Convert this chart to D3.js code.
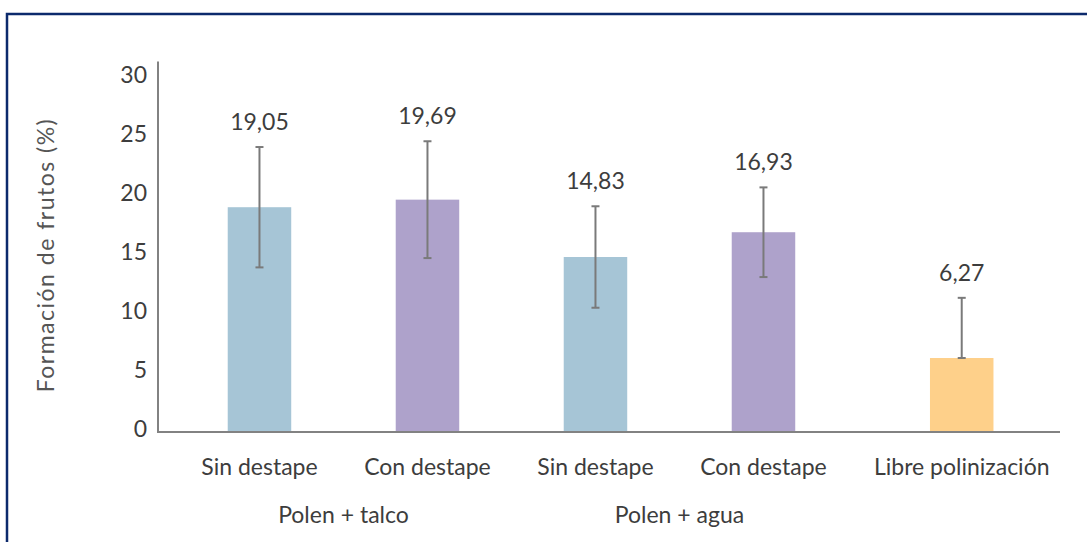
<!DOCTYPE html>
<html lang="es">
<head>
<meta charset="utf-8">
<script src="https://cdn.jsdelivr.net/npm/d3@7"></script>
<style>
  html, body { margin: 0; padding: 0; background: #ffffff; }
  svg { display: block; font-family: Lato, "Open Sans", sans-serif; }
</style>
</head>
<body>
<svg id="chart" width="1087" height="542"></svg>
<script>
// Treatment categories, their pollination group and fruit-set values (%)
const categories = ["Sin destape", "Con destape", "Sin destape", "Con destape", "Libre polinización"];
const groups = ["Polen + talco", "Polen + talco", "Polen + agua", "Polen + agua", null];
const values = [19.05, 19.69, 14.83, 16.93, 6.27];
const errors = [5.1, 4.95, 4.3, 3.8, 5.1];
const showLowerError = [true, true, true, true, false];
const barColors = ["#a6c5d6", "#aea2cb", "#a6c5d6", "#aea2cb", "#fed08a"];
const yTicks = [0, 5, 10, 15, 20, 25, 30];

const fmt = v => d3.format(".2f")(v).replace(".", ",");

const svg = d3.select("#chart");
const W = 1087, H = 542;

// Frame
svg.append("path")
  .attr("d", `M7,${H} L7,14 L${W},14`)
  .attr("fill", "none")
  .attr("stroke", "#0c2a6c")
  .attr("stroke-width", 2.5);

// Ungrouped bars sit a little further apart from the paired ones
const groupGap = 0.18;
const slots = categories.map((c, i) => i + (groups[i] === null ? groupGap : 0));

const plotLeft = 158, plotRight = 1060, plotBottom = 432, plotTop = 78;
const x = d3.scaleLinear().domain([-0.604, 4.765]).range([plotLeft, plotRight]);
const y = d3.scaleLinear().domain([0, 30]).range([plotBottom, plotTop]);
const barW = x(0.378) - x(0);
const yAxisTop = 31.4;

const axisColor = "#828282";
const textColor = "#3d3d3d";

// Bars
svg.append("g").selectAll("rect")
  .data(values)
  .join("rect")
  .attr("x", (d, i) => x(slots[i]) - barW / 2)
  .attr("y", d => y(d))
  .attr("width", barW)
  .attr("height", d => y(0) - y(d))
  .attr("fill", (d, i) => barColors[i]);

// Error bars
const eb = svg.append("g").attr("stroke", "#7a7a7a").attr("stroke-width", 2).attr("fill", "none");
values.forEach((v, i) => {
  const cx = x(slots[i]);
  const lo = showLowerError[i] ? v - errors[i] : v;
  const hi = v + errors[i];
  eb.append("line").attr("x1", cx).attr("x2", cx).attr("y1", y(lo)).attr("y2", y(hi));
  eb.append("line").attr("x1", cx - 4).attr("x2", cx + 4).attr("y1", y(hi)).attr("y2", y(hi));
  eb.append("line").attr("x1", cx - 4).attr("x2", cx + 4).attr("y1", y(lo)).attr("y2", y(lo));
});

// Value labels above the error bars
svg.append("g").selectAll("text")
  .data(values)
  .join("text")
  .attr("x", (d, i) => x(slots[i]))
  .attr("y", (d, i) => y(d + errors[i]) - 17)
  .attr("text-anchor", "middle")
  .attr("font-size", 23)
  .attr("fill", textColor)
  .text(d => fmt(d));

// Axes
svg.append("line")
  .attr("x1", plotLeft).attr("x2", plotLeft)
  .attr("y1", y(0)).attr("y2", y(yAxisTop))
  .attr("stroke", axisColor).attr("stroke-width", 2);
svg.append("line")
  .attr("x1", plotLeft - 1).attr("x2", plotRight)
  .attr("y1", y(0)).attr("y2", y(0))
  .attr("stroke", axisColor).attr("stroke-width", 2);

const yAxis = d3.axisLeft(y).tickValues(yTicks).tickSize(0).tickPadding(11).tickFormat(d3.format("d"));
const gy = svg.append("g").attr("transform", `translate(${plotLeft},0)`).call(yAxis);
gy.select(".domain").remove();
gy.selectAll("text")
  .attr("font-size", 23)
  .attr("font-family", "Lato, sans-serif")
  .attr("fill", textColor)
  .attr("dy", "0.18em");

// Category labels
svg.append("g").selectAll("text")
  .data(categories)
  .join("text")
  .attr("x", (d, i) => x(slots[i]))
  .attr("y", 475)
  .attr("text-anchor", "middle")
  .attr("font-size", 23)
  .attr("fill", textColor)
  .text(d => d);

// Group labels, centred under their pair of bars
const groupNames = Array.from(new Set(groups.filter(g => g !== null)));
svg.append("g").selectAll("text")
  .data(groupNames)
  .join("text")
  .attr("x", g => d3.mean(slots.filter((s, i) => groups[i] === g), s => x(s)))
  .attr("y", 523)
  .attr("text-anchor", "middle")
  .attr("font-size", 23)
  .attr("fill", textColor)
  .text(g => g);

// Y axis title
svg.append("text")
  .attr("transform", `translate(54, ${(y(0) + y(30)) / 2}) rotate(-90)`)
  .attr("text-anchor", "middle")
  .attr("font-size", 23)
  .attr("letter-spacing", 1.5)
  .attr("fill", "#555555")
  .text("Formación de frutos (%)");
</script>
</body>
</html>
